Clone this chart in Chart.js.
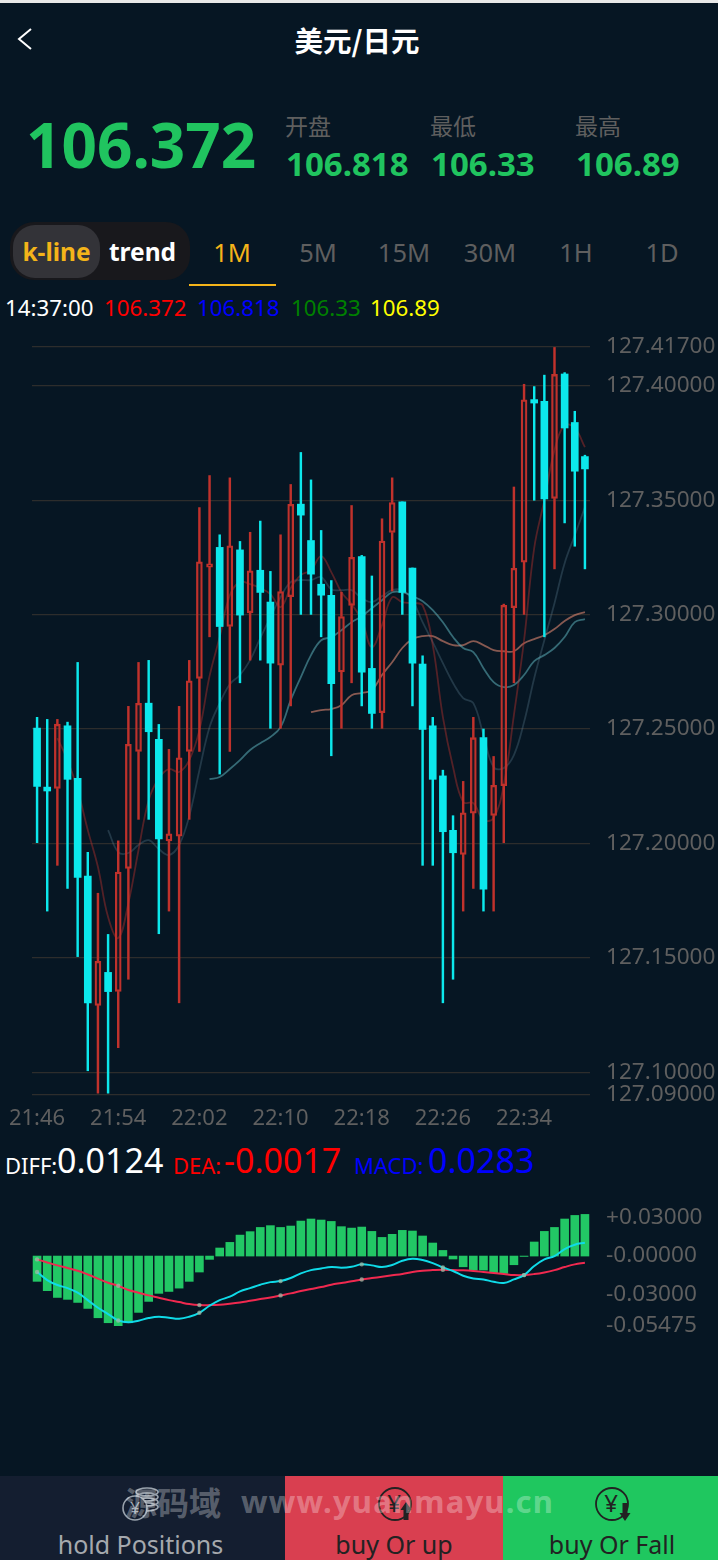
<!DOCTYPE html>
<html>
<head>
<meta charset="utf-8">
<title>美元/日元</title>
<script src="https://cdn.jsdelivr.net/npm/chart.js@4"></script>
<style>
html,body{margin:0;padding:0;background:#061623;}
body{width:718px;height:1560px;position:relative;overflow:hidden;font-family:"Noto Sans","Noto Sans CJK SC",sans-serif;}
.t{position:absolute;white-space:nowrap;line-height:1;}
.box{position:absolute;}
canvas{position:absolute;left:0;display:block;}
svg{position:absolute;overflow:visible;}
.g{color:#20c45f;font-weight:700;}
.lab{color:#5f5f5f;font-size:23px;}
.tab{color:#5f5f5f;font-size:25.5px;width:86px;text-align:center;top:240px;}
</style>
</head>
<body>
<div class="box" style="left:0;top:0;width:718px;height:3px;background:#e8e8e8"></div>
<svg style="left:0;top:0" width="60" height="60"><polyline points="31,29 19,39 31,49" fill="none" stroke="#fff" stroke-width="2"/></svg>
<div class="t" style="left:0;width:714px;text-align:center;top:26px;font-size:28.5px;font-weight:700;color:#fff;font-family:'Noto Sans CJK SC'">美元/日元</div>

<div class="t g" style="left:26px;top:113px;font-size:62px">106.372</div>
<div class="t lab" style="left:285px;top:115px">开盘</div>
<div class="t lab" style="left:430px;top:115px">最低</div>
<div class="t lab" style="left:575px;top:115px">最高</div>
<div class="t g" style="left:286px;top:147px;font-size:33px">106.818</div>
<div class="t g" style="left:431px;top:147px;font-size:33px">106.33</div>
<div class="t g" style="left:576px;top:147px;font-size:33px">106.89</div>

<div class="box" style="left:10px;top:222px;width:180px;height:58px;border-radius:24px;background:#18181c"></div>
<div class="box" style="left:13px;top:225px;width:87px;height:53px;border-radius:22px;background:#333338"></div>
<div class="t" style="left:13px;width:87px;text-align:center;top:240px;font-size:24.5px;font-weight:700;color:#f4b41a">k-line</div>
<div class="t" style="left:100px;width:85px;text-align:center;top:240px;font-size:24.5px;font-weight:700;color:#fff">trend</div>
<div class="t tab" style="left:189px;color:#f4b41a">1M</div>
<div class="t tab" style="left:275px">5M</div>
<div class="t tab" style="left:361px">15M</div>
<div class="t tab" style="left:447px">30M</div>
<div class="t tab" style="left:533px">1H</div>
<div class="t tab" style="left:619px">1D</div>
<div class="box" style="left:189px;top:284px;width:87px;height:2px;background:#f4b41a"></div>

<div class="t" style="left:5px;top:297px;font-size:22.3px;color:#fff">14:37:00</div>
<div class="t" style="left:104px;top:297px;font-size:22.3px;color:#ff0000">106.372</div>
<div class="t" style="left:197px;top:297px;font-size:22.3px;color:#0000ff">106.818</div>
<div class="t" style="left:291px;top:297px;font-size:22.3px;color:#008000">106.33</div>
<div class="t" style="left:370px;top:297px;font-size:22.3px;color:#ffff00">106.89</div>

<canvas id="klineChart" width="718" height="800" style="top:330px"></canvas>

<div class="t" style="left:5px;top:1154px;font-size:22px;color:#fff">DIFF:</div>
<div class="t" style="left:57px;top:1143px;font-size:34px;color:#fff">0.0124</div>
<div class="t" style="left:173px;top:1154px;font-size:22px;color:#ff0000">DEA:</div>
<div class="t" style="left:224px;top:1143px;font-size:34px;color:#ff0000">-0.0017</div>
<div class="t" style="left:354px;top:1154px;font-size:22px;color:#0000ff">MACD:</div>
<div class="t" style="left:428px;top:1143px;font-size:34px;color:#0000ff">0.0283</div>

<canvas id="macdChart" width="718" height="140" style="top:1200px"></canvas>

<div class="box" style="left:0;top:1476px;width:285px;height:84px;background:#141e30"></div>
<div class="box" style="left:285px;top:1476px;width:218px;height:84px;background:#d93f50"></div>
<div class="box" style="left:503px;top:1476px;width:215px;height:84px;background:#1fc75f"></div>

<svg style="left:0;top:1476px" width="718" height="84">
  <g fill="none" stroke="#9aa3ad" stroke-width="1.6">
    <ellipse cx="147" cy="16" rx="11" ry="4" fill="#141e30"/><ellipse cx="147" cy="21" rx="11" ry="4"/><ellipse cx="147" cy="26" rx="11" ry="4"/><ellipse cx="147" cy="31" rx="11" ry="4"/>
    <circle cx="135" cy="32" r="12" fill="#141e30"/>
  </g>
  <text x="135" y="38" text-anchor="middle" font-size="17" fill="#9aa3ad" font-family="Noto Sans">¥</text>
  <g fill="none" stroke="#222" stroke-width="1.8">
    <circle cx="395" cy="28" r="16"/>
    <circle cx="612" cy="28" r="16"/>
  </g>
  <text x="394" y="36" text-anchor="middle" font-size="24" fill="#222" font-family="Noto Sans">¥</text>
  <text x="611" y="36" text-anchor="middle" font-size="24" fill="#222" font-family="Noto Sans">¥</text>
  <path d="M403.500,44 v-10 h-3 l5.500,-8 l5.500,8 h-3 v10 z" fill="#222"/>
  <path d="M622.500,27 h5 v10 h3 l-5.500,8 l-5.500,-8 h3 z" fill="#222"/>
</svg>

<div class="t" style="left:0;width:281px;text-align:center;top:1532px;font-size:25px;color:#a5a9ae">hold Positions</div>
<div class="t" style="left:285px;width:218px;text-align:center;top:1532px;font-size:25px;color:#222">buy Or up</div>
<div class="t" style="left:503px;width:218px;text-align:center;top:1532px;font-size:25px;color:#222">buy Or Fall</div>

<div class="t" style="left:125px;top:1485px;font-size:32px;font-weight:700;color:rgba(255,255,255,.3);font-family:'Noto Sans CJK SC'">源码域</div>
<div class="t" style="left:241px;top:1486px;font-size:31px;font-weight:700;letter-spacing:1.2px;color:rgba(255,255,255,.3)">www.yuanmayu.cn</div>

<script>
const times = ['21:46','21:47','21:48','21:49','21:50','21:51','21:52','21:53','21:54','21:55','21:56','21:57','21:58','21:59','22:00','22:01','22:02','22:03','22:04','22:05','22:06','22:07','22:08','22:09','22:10','22:11','22:12','22:13','22:14','22:15','22:16','22:17','22:18','22:19','22:20','22:21','22:22','22:23','22:24','22:25','22:26','22:27','22:28','22:29','22:30','22:31','22:32','22:33','22:34','22:35','22:36','22:37','22:38','22:39','22:40']
const shownTimes = ['21:46','21:54','22:02','22:10','22:18','22:26','22:34']
const priceTicks = [127.417,127.4,127.35,127.3,127.25,127.2,127.15,127.1,127.09]
const macdTicks = [0.03,0,-0.03,-0.05475]

const opens = [127.2504,127.2246,127.2240,127.2514,127.2284,127.1857,127.1292,127.1436,127.1353,127.1891,127.2402,127.2613,127.2455,127.2011,127.2032,127.2402,127.2721,127.3208,127.3294,127.2948,127.3283,127.3008,127.3194,127.3055,127.2779,127.3079,127.3483,127.3324,127.3133,127.3084,127.2750,127.3040,127.3254,127.2765,127.2571,127.3359,127.3493,127.3204,127.2784,127.2514,127.2295,127.2057,127.1952,127.2132,127.2463,127.2122,127.2252,127.3030,127.3229,127.3940,127.3932,127.3508,127.4052,127.3840,127.3691]
const closes = [127.2249,127.2229,127.2521,127.2280,127.1851,127.1302,127.1484,127.1352,127.1875,127.2433,127.2612,127.2488,127.2020,127.2042,127.2374,127.2711,127.3231,127.3222,127.2948,127.3301,127.2998,127.3191,127.3097,127.2788,127.3101,127.3482,127.3435,127.3177,127.3085,127.2698,127.2992,127.3251,127.2749,127.2568,127.3322,127.3490,127.3097,127.2788,127.2498,127.2280,127.2051,127.1959,127.2134,127.2462,127.1800,127.2254,127.3041,127.3202,127.3939,127.3925,127.3506,127.4050,127.3816,127.3627,127.3637]
const highs = [127.2551,127.2542,127.2542,127.2530,127.2791,127.1961,127.1782,127.1602,127.2011,127.2599,127.2791,127.2800,127.2520,127.2411,127.2599,127.2800,127.3468,127.3608,127.3349,127.3598,127.3320,127.3360,127.3409,127.3189,127.3349,127.3569,127.3709,127.3589,127.3368,127.3149,127.3098,127.3477,127.3259,127.3169,127.3419,127.3598,127.3493,127.3204,127.2820,127.2551,127.2320,127.2121,127.2271,127.2551,127.2500,127.2380,127.3046,127.3558,127.4007,127.3997,127.4047,127.4168,127.4058,127.3889,127.3697]
const lows = [127.2003,127.1704,127.1904,127.1803,127.1505,127.1006,127.0908,127.0908,127.1107,127.1406,127.2105,127.2105,127.1605,127.1704,127.1303,127.2105,127.2402,127.2903,127.2303,127.2402,127.2702,127.2801,127.2801,127.2503,127.2503,127.2601,127.3001,127.3001,127.2903,127.2383,127.2503,127.2702,127.2601,127.2503,127.2503,127.3103,127.3001,127.2601,127.1904,127.1904,127.1303,127.1406,127.1704,127.1803,127.1704,127.1704,127.2003,127.2702,127.3001,127.3500,127.2903,127.3200,127.3401,127.3299,127.3200]

const ma5 = [null,null,127.2460,127.2364,127.2233,127.2058,127.1897,127.1678,127.1586,127.1739,127.1971,127.2189,127.2285,127.2325,127.2312,127.2364,127.2495,127.2731,127.2902,127.3085,127.3142,127.3133,127.3116,127.3090,127.3033,127.3116,127.3173,127.3194,127.3256,127.3186,127.3098,127.3046,127.2976,127.2858,127.2954,127.3076,127.3055,127.3050,127.3041,127.2867,127.2552,127.2334,127.2181,127.2176,127.2102,127.2111,127.2255,127.2561,127.2888,127.3291,127.3500,127.3719,127.3828,127.3815,127.3732]
const ma10 = [null,null,null,null,null,null,null,127.2058,127.1962,127.1958,127.1993,127.2014,127.1975,127.1949,127.1993,127.2119,127.2320,127.2508,127.2613,127.2696,127.2736,127.2801,127.2897,127.2989,127.3076,127.3142,127.3151,127.3151,127.3164,127.3111,127.3107,127.3107,127.3072,127.3055,127.3081,127.3107,127.3107,127.3063,127.2967,127.2880,127.2788,127.2701,127.2635,127.2613,127.2473,127.2334,127.2329,127.2386,127.2530,127.2722,127.2888,127.3050,127.3225,127.3347,127.3470]
const ma20 = [null,null,null,null,null,null,null,null,null,null,null,null,null,null,null,null,null,127.2281,127.2290,127.2325,127.2364,127.2408,127.2438,127.2465,127.2508,127.2626,127.2727,127.2823,127.2888,127.2902,127.2932,127.2967,127.2993,127.3028,127.3063,127.3098,127.3098,127.3081,127.3059,127.3020,127.2967,127.2902,127.2854,127.2836,127.2766,127.2705,127.2683,127.2692,127.2736,127.2797,127.2823,127.2854,127.2902,127.2967,127.2980]
const ma30 = [null,null,null,null,null,null,null,null,null,null,null,null,null,null,null,null,null,null,null,null,null,null,null,null,null,null,null,127.2574,127.2583,127.2587,127.2604,127.2648,127.2657,127.2670,127.2736,127.2792,127.2854,127.2893,127.2906,127.2906,127.2884,127.2867,127.2867,127.2884,127.2867,127.2845,127.2840,127.2840,127.2875,127.2893,127.2910,127.2937,127.2972,127.2998,127.3011]

const macdBars = [-0.0198,-0.0271,-0.0324,-0.0339,-0.0363,-0.0410,-0.0483,-0.0522,-0.0548,-0.0522,-0.0441,-0.0355,-0.0292,-0.0277,-0.0251,-0.0198,-0.0125,-0.0026,0.0063,0.0107,0.0164,0.0191,0.0224,0.0238,0.0224,0.0235,0.0274,0.0290,0.0282,0.0271,0.0230,0.0219,0.0227,0.0193,0.0146,0.0170,0.0201,0.0196,0.0157,0.0102,0.0044,-0.0023,-0.0084,-0.0110,-0.0110,-0.0131,-0.0136,-0.0068,-0.0003,0.0110,0.0193,0.0224,0.0290,0.0318,0.0326]
const diffLine = [-0.0125,-0.0188,-0.0227,-0.0251,-0.0287,-0.0345,-0.0405,-0.0454,-0.0504,-0.0519,-0.0506,-0.0485,-0.0475,-0.0483,-0.0491,-0.0475,-0.0444,-0.0389,-0.0345,-0.0318,-0.0277,-0.0251,-0.0224,-0.0204,-0.0196,-0.0172,-0.0136,-0.0110,-0.0097,-0.0086,-0.0091,-0.0084,-0.0065,-0.0073,-0.0086,-0.0070,-0.0037,-0.0021,-0.0031,-0.0055,-0.0089,-0.0117,-0.0154,-0.0175,-0.0183,-0.0201,-0.0211,-0.0183,-0.0149,-0.0078,-0.0026,0.0000,0.0055,0.0089,0.0104]
const deaLine = [-0.0026,-0.0050,-0.0073,-0.0094,-0.0115,-0.0144,-0.0177,-0.0209,-0.0232,-0.0266,-0.0287,-0.0308,-0.0326,-0.0345,-0.0360,-0.0376,-0.0384,-0.0384,-0.0381,-0.0373,-0.0363,-0.0350,-0.0337,-0.0324,-0.0308,-0.0292,-0.0274,-0.0258,-0.0243,-0.0224,-0.0211,-0.0198,-0.0183,-0.0172,-0.0162,-0.0151,-0.0141,-0.0125,-0.0115,-0.0110,-0.0107,-0.0110,-0.0112,-0.0117,-0.0125,-0.0133,-0.0141,-0.0149,-0.0149,-0.0141,-0.0128,-0.0110,-0.0086,-0.0065,-0.0052]

const RED = '#c0322c'
const CYAN = '#0ce8ec'
const GREY = '#5f5f5f'
const tickFont = {family: '"Noto Sans"', size: 22.6}

var isRise = times.map((t, i) => closes[i] > opens[i])
var wickColors = isRise.map(r => r ? RED : CYAN)
var bodyTop = times.map((t, i) => Math.max(opens[i], closes[i]))
var bodyBottom = times.map((t, i) => Math.min(opens[i], closes[i]))

function maLine(data, color) {
    return {
        type: 'line', data: data, order: 3,
        borderColor: color, borderWidth: 1.8,
        pointRadius: 0, tension: 0.4, spanGaps: false
    }
}

// drop the overhang chart.js reserves for the tick labels so the plot area is exact
function fitRightAxis(s) {
    s.width = 128
    s.paddingTop = 0
    s.paddingBottom = 0
}

new Chart(document.getElementById('klineChart'), {
    data: {
        labels: times,
        datasets: [
            maLine(ma5, 'rgba(190,50,45,0.42)'),
            maLine(ma10, 'rgba(120,160,180,0.25)'),
            maLine(ma20, 'rgba(100,190,200,0.5)'),
            maLine(ma30, 'rgba(215,130,110,0.62)'),
            {type: 'bar', order: 2, grouped: false, barThickness: 1.8, backgroundColor: wickColors, borderWidth: 0,
                data: times.map((t, i) => [bodyTop[i], highs[i]])},
            {type: 'bar', order: 2, grouped: false, barThickness: 1.8, backgroundColor: wickColors, borderWidth: 0,
                data: times.map((t, i) => [lows[i], bodyBottom[i]])},
            {type: 'bar', order: 1, grouped: false, barThickness: 6,
                backgroundColor: 'rgba(190,50,45,0.1)', borderColor: RED, borderWidth: 1.6, borderSkipped: false,
                data: times.map((t, i) => isRise[i] ? [opens[i], closes[i]] : null)},
            {type: 'bar', order: 1, grouped: false, barThickness: 7,
                backgroundColor: CYAN, borderWidth: 0,
                data: times.map((t, i) => isRise[i] ? null : [opens[i], closes[i]])}
        ]
    },
    options: {
        responsive: false,
        animation: false,
        layout: {padding: {left: 32, top: 17, right: 0, bottom: 0}},
        plugins: {legend: {display: false}, tooltip: {enabled: false}},
        scales: {
            x: {
                type: 'category',
                afterFit: s => { s.height = 35 },
                grid: {display: false},
                border: {display: false},
                ticks: {
                    autoSkip: false, maxRotation: 0, minRotation: 0, padding: 3,
                    color: GREY, font: {family: '"Noto Sans"', size: 22},
                    callback: function(v) {
                        let label = this.getLabelForValue(v)
                        return shownTimes.includes(label) ? label : ''
                    }
                }
            },
            y: {
                position: 'right',
                min: 127.09,
                max: 127.417,
                afterFit: fitRightAxis,
                afterBuildTicks: s => { s.ticks = priceTicks.map(v => ({value: v})) },
                grid: {color: '#2d2d2c', lineWidth: 1.2, drawTicks: false},
                border: {display: false},
                ticks: {
                    padding: 16, color: GREY, font: tickFont,
                    callback: v => v.toFixed(5)
                }
            }
        }
    }
})

function macdLine(data, color) {
    return {
        type: 'line', data: data, order: 1,
        borderColor: color, borderWidth: 2, tension: 0.4,
        pointRadius: c => c.dataIndex % 8 == 0 ? 2.2 : 0,
        pointBackgroundColor: 'rgba(160,185,165,0.75)', pointBorderWidth: 0
    }
}

new Chart(document.getElementById('macdChart'), {
    data: {
        labels: times,
        datasets: [
            macdLine(diffLine, '#0fdbe8'),
            macdLine(deaLine, '#f0294f'),
            {type: 'bar', order: 2, data: macdBars, backgroundColor: '#22c765', borderWidth: 0, barThickness: 8}
        ]
    },
    options: {
        responsive: false,
        animation: false,
        layout: {padding: {left: 32, top: 13, right: 0, bottom: 14}},
        plugins: {legend: {display: false}, tooltip: {enabled: false}},
        scales: {
            x: {display: false},
            y: {
                position: 'right',
                min: -0.05475,
                max: 0.0337,
                afterFit: fitRightAxis,
                afterBuildTicks: s => { s.ticks = macdTicks.map(v => ({value: v})) },
                grid: {display: false, drawTicks: false},
                border: {display: false},
                ticks: {
                    padding: 16, color: GREY, font: tickFont,
                    callback: v => v > 0 ? '+' + v.toFixed(5) : v == 0 ? '-0.00000' : v.toFixed(5)
                }
            }
        }
    }
})
</script>
</body>
</html>
